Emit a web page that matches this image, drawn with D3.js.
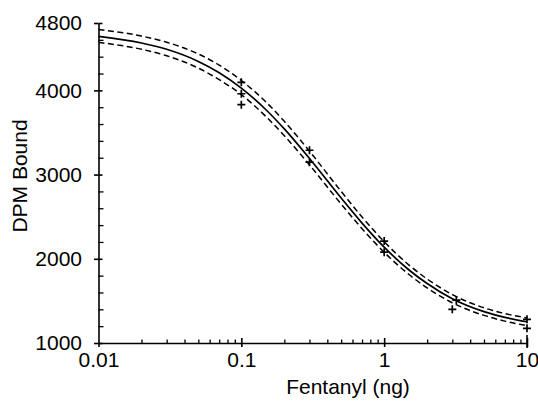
<!DOCTYPE html>
<html>
<head>
<meta charset="utf-8">
<script src="https://cdn.jsdelivr.net/npm/d3@7"></script>
<style>
  html, body { margin: 0; padding: 0; background: #fff; }
  svg { display: block; }
  text { font-family: "Liberation Sans", Arial, sans-serif; fill: #000; }
</style>
</head>
<body>
<svg id="chart" width="538" height="401"></svg>
<script>
// ---- data ----
const curveX     = [0.01, 0.02, 0.03, 0.05, 0.07, 0.1, 0.15, 0.2, 0.3, 0.5, 0.7, 1, 1.5, 2, 3, 5, 7, 10];
const fitMiddle  = [4642, 4563, 4488, 4344, 4210, 4027, 3764, 3542, 3191, 2722, 2424, 2138, 1864, 1706, 1525, 1372, 1305, 1252];
const fitUpper   = [4722, 4645, 4572, 4432, 4300, 4117, 3856, 3632, 3278, 2800, 2496, 2203, 1922, 1760, 1575, 1418, 1350, 1298];
const fitLower   = [4570, 4488, 4411, 4264, 4128, 3950, 3683, 3462, 3115, 2650, 2358, 2078, 1810, 1655, 1478, 1328, 1260, 1206];
const pointX     = [0.1, 0.1, 0.1, 0.3, 0.3, 1, 1, 3.2, 3, 10, 10];
const pointY     = [4096, 3960, 3830, 3289, 3147, 2210, 2079, 1510, 1400, 1281, 1174];
const xTickValues = [0.01, 0.1, 1, 10];
const xTickLabels = ["0.01", "0.1", "1", "10"];
const yTickValues = [1000, 2000, 3000, 4000, 4800];
const yTickLabels = ["1000", "2000", "3000", "4000", "4800"];
const xLabel = "Fentanyl (ng)";
const yLabel = "DPM Bound";

// ---- layout ----
const svg = d3.select("#chart");
const mLeft = 98.5, mRight = 527, mTop = 23, mBottom = 343;

const x = d3.scaleLog().domain([0.01, 10]).range([mLeft, mRight]);
const y = d3.scaleLinear().domain([1000, 4800]).range([mBottom, mTop]);

const fontSize = 21;

// minor tick positions
const xMinor = [];
[0.01, 0.1, 1].forEach(dec => { for (let k = 2; k <= 9; k++) xMinor.push(dec * k); });
const yMinor = d3.range(1200, 4800, 200).filter(v => v % 1000 !== 0);

// ---- x axis ----
const gx = svg.append("g").attr("transform", `translate(0,${mBottom})`);
gx.call(d3.axisBottom(x).tickValues(xTickValues).tickSizeInner(4).tickSizeOuter(0).tickPadding(5)
  .tickFormat((d, i) => xTickLabels[i]));
gx.selectAll("text").style("font-size", fontSize + "px");
gx.selectAll("path,line").attr("stroke", "#000").attr("stroke-width", 1.6);

const gxUp = svg.append("g").attr("transform", `translate(0,${mBottom})`);
gxUp.call(d3.axisTop(x).tickValues(xTickValues.slice(1)).tickSize(5).tickFormat(""));
gxUp.select(".domain").remove();
gxUp.selectAll("line").attr("stroke", "#000").attr("stroke-width", 1.6);

const gxMinor = svg.append("g").attr("transform", `translate(0,${mBottom})`);
gxMinor.call(d3.axisTop(x).tickValues(xMinor).tickSize(3.5).tickFormat(""));
gxMinor.select(".domain").remove();
gxMinor.selectAll("line").attr("stroke", "#000").attr("stroke-width", 1.3);

// ---- y axis ----
const gy = svg.append("g").attr("transform", `translate(${mLeft},0)`);
gy.call(d3.axisLeft(y).tickValues(yTickValues).tickSizeInner(4.5).tickSizeOuter(0).tickPadding(12)
  .tickFormat((d, i) => yTickLabels[i]));
gy.selectAll("text").style("font-size", fontSize + "px");
gy.selectAll("path,line").attr("stroke", "#000").attr("stroke-width", 1.6);

const gyRight = svg.append("g").attr("transform", `translate(${mLeft},0)`);
gyRight.call(d3.axisRight(y).tickValues(yTickValues).tickSize(4).tickFormat(""));
gyRight.select(".domain").remove();
gyRight.selectAll("line").attr("stroke", "#000").attr("stroke-width", 1.6);

const gyMinor = svg.append("g").attr("transform", `translate(${mLeft},0)`);
gyMinor.call(d3.axisRight(y).tickValues(yMinor).tickSize(5).tickFormat(""));
gyMinor.select(".domain").remove();
gyMinor.selectAll("line").attr("stroke", "#000").attr("stroke-width", 1.3);

// end tick at x = 10
svg.append("line")
  .attr("x1", x(10)).attr("x2", x(10))
  .attr("y1", y(1000) - 8).attr("y2", y(1000) + 5)
  .attr("stroke", "#000").attr("stroke-width", 1.6);

// ---- axis titles ----
svg.append("text")
  .attr("x", 348).attr("y", 394)
  .attr("text-anchor", "middle")
  .style("font-size", fontSize + "px")
  .text(xLabel);

svg.append("text")
  .attr("transform", `translate(27,176) rotate(-90)`)
  .attr("text-anchor", "middle")
  .style("font-size", fontSize + "px")
  .text(yLabel);

// ---- curves ----
const line = d3.line().x(d => x(d[0])).y(d => y(d[1])).curve(d3.curveMonotoneX);
const series = [
  { vals: fitUpper, dash: "6,3.5", w: 1.5 },
  { vals: fitMiddle, dash: null, w: 1.7 },
  { vals: fitLower, dash: "6,3.5", w: 1.5 }
];
series.forEach(s => {
  svg.append("path")
    .datum(curveX.map((cx, i) => [cx, s.vals[i]]))
    .attr("d", line)
    .attr("fill", "none")
    .attr("stroke", "#000")
    .attr("stroke-width", s.w)
    .attr("stroke-dasharray", s.dash);
});

// ---- data points (+) ----
svg.append("g").selectAll("path")
  .data(pointX.map((px, i) => [px, pointY[i]]))
  .join("path")
  .attr("transform", d => `translate(${x(d[0])},${y(d[1])})`)
  .attr("d", "M-4,0H4M0,-4V4")
  .attr("stroke", "#000")
  .attr("stroke-width", 1.7)
  .attr("fill", "none");
</script>
</body>
</html>
